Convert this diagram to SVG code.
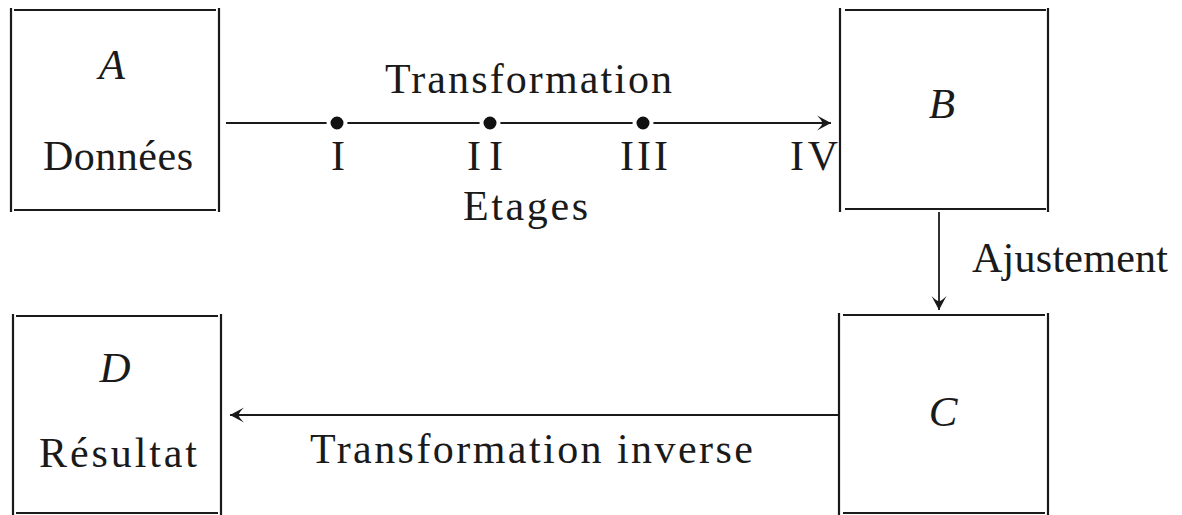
<svg xmlns="http://www.w3.org/2000/svg" width="1182" height="515" viewBox="0 0 1182 515">
<style>
.bx{stroke:#1a1a1a;stroke-width:2.2;fill:none}
.ln{stroke:#1a1a1a;stroke-width:1.8;fill:none}
.t{font-family:"Liberation Serif","DejaVu Serif",serif;font-size:42px;fill:#1a1a1a}
.i{font-style:italic;text-anchor:middle;font-size:43px}
.dot{fill:#111;stroke:#fff;stroke-width:4}
</style>
<defs>
<marker id="ah" viewBox="-15 -8 17 16" markerWidth="17" markerHeight="16" refX="0" refY="0" orient="auto" markerUnits="userSpaceOnUse">
<path d="M0,0 L-14,-7.5 Q-8,-1.5 -9,0 Q-8,1.5 -14,7.5 Z" fill="#1a1a1a"/>
</marker>
</defs>
<g id="nodeA">
<path class="bx" d="M11,8V212M219,8V212M14,10H216M14,210H216"/>
<text class="t i" x="112" y="79">A</text>
<text class="t" x="43" y="170" textLength="150" lengthAdjust="spacing">Données</text>
</g>
<g id="nodeB">
<path class="bx" d="M840,8V212M1048,8V212M845,10H1046M845,209H1046"/>
<text class="t i" x="942" y="118">B</text>
</g>
<g id="nodeC">
<path class="bx" d="M839,313V515M1048,313V515M843,315H1045M843,513H1045"/>
<text class="t i" x="943" y="426">C</text>
</g>
<g id="nodeD">
<path class="bx" d="M13,314V515M221,314V515M16,316H218M16,513H218"/>
<text class="t i" x="115" y="382">D</text>
<text class="t" x="39" y="467" textLength="158" lengthAdjust="spacing">Résultat</text>
</g>
<g id="connectors">
<line class="ln" x1="226" y1="123" x2="831" y2="123" marker-end="url(#ah)"/>
<circle class="dot" cx="337" cy="123" r="8.5"/>
<circle class="dot" cx="490" cy="123" r="8.5"/>
<circle class="dot" cx="643" cy="123" r="8.5"/>
<line class="ln" x1="939" y1="212" x2="939" y2="310" marker-end="url(#ah)"/>
<line class="ln" x1="838" y1="415" x2="230" y2="415" marker-end="url(#ah)"/>
</g>
<g id="labels">
<text class="t" x="385" y="93" textLength="287" lengthAdjust="spacing">Transformation</text>
<text class="t" x="331" y="170">I</text>
<text class="t" x="467" y="170" textLength="36" lengthAdjust="spacing">II</text>
<text class="t" x="620" y="170" textLength="48" lengthAdjust="spacing">III</text>
<text class="t" x="790" y="170" textLength="48" lengthAdjust="spacing">IV</text>
<text class="t" x="463" y="220" textLength="125" lengthAdjust="spacing">Etages</text>
<text class="t" x="972" y="272" textLength="196" lengthAdjust="spacing">Ajustement</text>
<text class="t" x="310" y="463" textLength="443" lengthAdjust="spacing">Transformation inverse</text>
</g>
</svg>
